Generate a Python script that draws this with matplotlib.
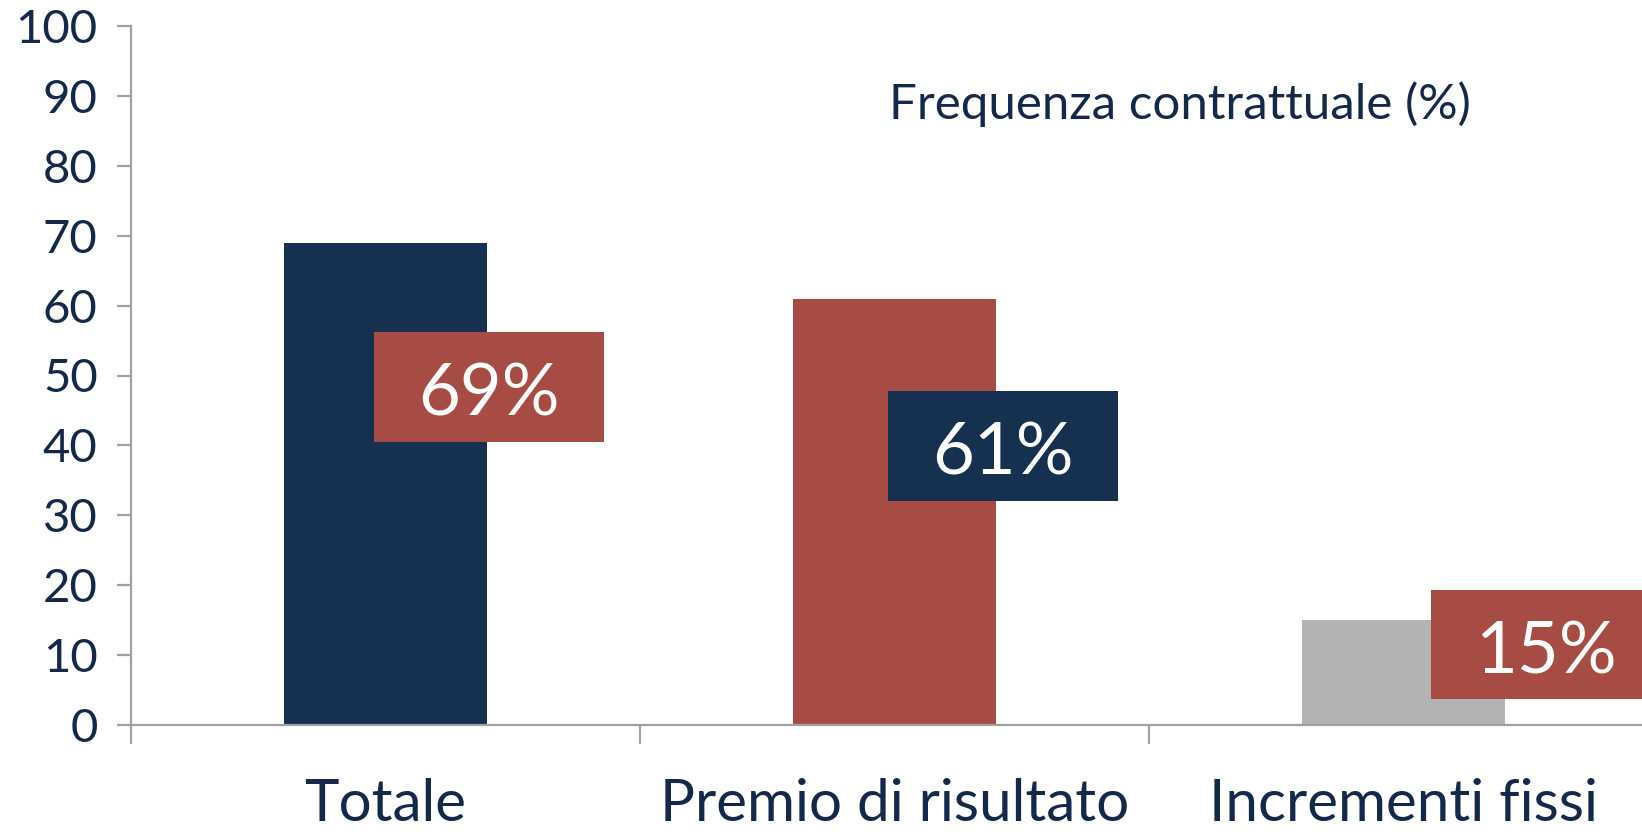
import matplotlib.pyplot as plt
from matplotlib.patches import Rectangle

# dati
categories = ["Totale", "Premio di risultato", "Incrementi fissi"]
values = [69, 61, 15]
labels = ["69%", "61%", "15%"]
title_text = "Frequenza contrattuale (%)"
yticks = list(range(0, 101, 10))

# stile
NAVY = "#16304F"
RED = "#A64C45"
GRAY = "#B3B3B3"
AXIS = "#A0A0A0"
TEXT = "#14284A"
bar_colors = [NAVY, RED, GRAY]
box_colors = [RED, NAVY, RED]
# posizione dei riquadri (centro, in unità dati)
box_x = [0.703, 1.713, 2.78]
box_y = [48.35, 39.95, 11.5]
box_w, box_h = 0.452, 15.7

plt.rcParams["font.family"] = ["Lato", "DejaVu Sans"]

fig = plt.figure(figsize=(16.42, 8.35), dpi=100)
ax = fig.add_axes([131 / 1642, 110 / 835, 1527 / 1642, 699 / 835])

xpos = [i + 0.5 for i in range(len(categories))]
ax.bar(xpos, values, width=0.4, color=bar_colors, zorder=2)

for cx, cy, lab, col in zip(box_x, box_y, labels, box_colors):
    ax.add_patch(Rectangle((cx - box_w / 2, cy - box_h / 2), box_w, box_h,
                           facecolor=col, edgecolor="none", zorder=3, clip_on=False))
    ax.text(cx, cy - 1.2, lab, ha="center", va="center", color="white",
            fontsize=52, zorder=4)

ax.text(1180 / 1642, 1 - 104 / 835, title_text, transform=fig.transFigure,
        ha="center", va="center", color=TEXT, fontsize=35.5)

ax.set_xlim(0, 3)
ax.set_ylim(0, 100)
ax.set_yticks(yticks)
ax.set_xticks([0, 1, 2, 3])
ax.set_xticklabels([])
ax.set_xticks(xpos, minor=True)
ax.set_xticklabels(categories, minor=True)

for s in ["top", "right"]:
    ax.spines[s].set_visible(False)
for s in ["left", "bottom"]:
    ax.spines[s].set_color(AXIS)
    ax.spines[s].set_linewidth(1.6)

ax.tick_params(axis="y", direction="out", length=10, width=1.6, color=AXIS,
               labelsize=34, labelcolor=TEXT, pad=14)
ax.tick_params(axis="x", which="major", direction="out", length=14, width=1.6, color=AXIS)
ax.tick_params(axis="x", which="minor", length=0, labelsize=42, labelcolor=TEXT, pad=38)

fig.savefig("out.png", dpi=100)
